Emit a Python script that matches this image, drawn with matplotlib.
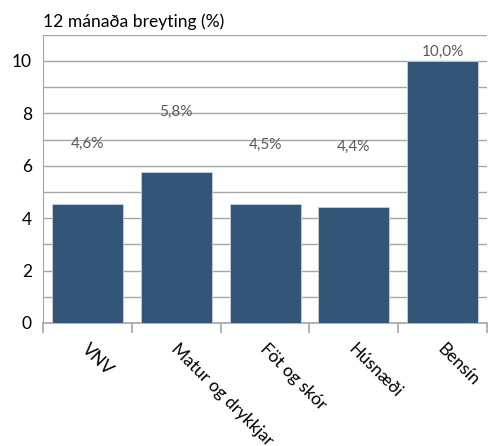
import numpy as np
import matplotlib.pyplot as plt

plt.rcParams['font.family'] = ['Lato', 'DejaVu Sans']

categories = ['VNV', 'Matur og drykkjar.', 'Föt og skór', 'Húsnæði', 'Bensín']
values = [4.55, 5.78, 4.54, 4.44, 10.0]
labels = ['4,6%', '5,8%', '4,5%', '4,4%', '10,0%']
label_y = [6.83, 8.05, 6.80, 6.72, 10.34]

bar_color = '#335577'
grid_color = '#A6A6A6'

fig = plt.figure(figsize=(4.92, 4.46), dpi=100)
ax = fig.add_axes([0.0874, 0.2758, 0.9026, 0.6462])

x = np.arange(len(categories))
ax.bar(x, values, width=0.8, color=bar_color, edgecolor='#c8d0d8', linewidth=0.6, zorder=3)

for xi, lab, ly in zip(x, labels, label_y):
    ax.text(xi, ly, lab, ha='center', va='center', fontsize=11, color='#595959', zorder=4)

ax.set_xlim(-0.5, len(categories) - 0.5)
ax.set_ylim(0, 11)
ax.set_yticks(np.arange(0, 11, 2))
ax.set_yticks(np.arange(0, 12, 1), minor=True)
ax.yaxis.grid(True, which='both', color=grid_color, linewidth=1.0, zorder=0)
ax.tick_params(axis='y', which='both', length=0, pad=8, labelsize=12.5)

ax.set_xticks(x)
ax.set_xticklabels([])
ax.set_xticks(np.arange(-0.5, len(categories)), minor=True)
ax.tick_params(axis='x', which='major', length=0)
ax.tick_params(axis='x', which='minor', length=7, width=1.2, color=grid_color)

for xi, cat in zip(x, categories):
    ax.annotate(cat, xy=(xi, 0), xycoords='data', xytext=(-2, -17),
                textcoords='offset points', rotation=-45, rotation_mode='anchor',
                ha='left', va='center', fontsize=12.5, annotation_clip=False)

for s in ['top', 'right']:
    ax.spines[s].set_visible(False)
ax.spines['left'].set_color(grid_color)
ax.spines['bottom'].set_color(grid_color)
ax.spines['bottom'].set_linewidth(1.2)

fig.text(43 / 492, 1 - 22 / 446, '12 mánaða breyting (%)', ha='left', va='center', fontsize=12.6)

fig.savefig('out.png', dpi=100)
